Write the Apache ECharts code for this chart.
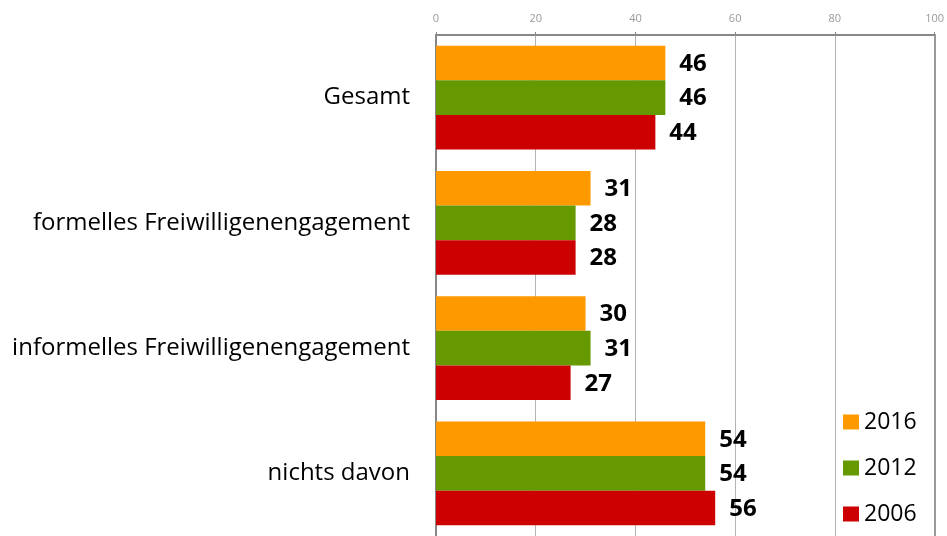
<!DOCTYPE html>
<html><head><meta charset="utf-8">
<script src="https://cdn.jsdelivr.net/npm/echarts@6/dist/echarts.min.js"></script>
<style>html,body{margin:0;padding:0;background:#fff}#c{width:947px;height:536px}</style>
</head><body><div id="c"></div>
<script>
const categories = ["Gesamt","formelles Freiwilligenengagement","informelles Freiwilligenengagement","nichts davon"];
const years = ["2016","2012","2006"];
const v2016 = [46,31,30,54];
const v2012 = [46,28,31,54];
const v2006 = [44,28,27,56];
const xTicks = [0,20,40,60,80,100];
const colors = ["#FF9900","#669900","#CC0000"];
const vals = [v2016,v2012,v2006];
const chart = echarts.init(document.getElementById('c'));
chart.setOption({
  animation:false,
  textStyle:{fontFamily:"Open Sans"},
  grid:{left:436,right:12,top:35,bottom:-2},
  legend:{orient:'vertical',left:843,top:410,padding:0,itemWidth:16,itemHeight:15,itemGap:22,icon:'rect',
    textStyle:{fontSize:23,lineHeight:24,color:'#000',fontFamily:'Open Sans'},data:years},
  xAxis:{type:'value',position:'top',min:xTicks[0],max:xTicks[xTicks.length-1],interval:20,
    axisLine:{show:true,lineStyle:{color:'#888',width:2}},
    axisTick:{show:true,length:3,lineStyle:{color:'#888'}},
    axisLabel:{fontSize:11,color:'#999',margin:11},
    splitLine:{show:true,lineStyle:{color:'#b4b4b4',width:1}}},
  yAxis:[{type:'category',inverse:true,data:categories,
    axisLine:{lineStyle:{color:'#888',width:2}},
    axisTick:{length:6,lineStyle:{color:'#888'}},
    axisLabel:{fontSize:24,color:'#000',margin:26}},
   {type:'category',inverse:true,data:categories,position:'right',
    axisLine:{show:true,lineStyle:{color:'#999',width:2}},
    axisTick:{show:false},axisLabel:{show:false},splitLine:{show:false}}],
  series:years.map((y,i)=>({name:y,type:'bar',data:vals[i],barGap:'0%',barCategoryGap:'17%',
    itemStyle:{color:colors[i]},
    label:{show:true,position:'right',distance:14,offset:[0,1],fontSize:24,fontWeight:'bold',color:'#000',fontFamily:'Open Sans'}}))
});
</script></body></html>
